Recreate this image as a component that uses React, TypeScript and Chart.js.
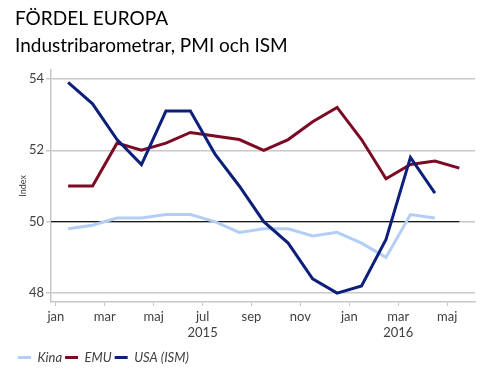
import React, { useEffect, useRef } from "react";
import { Chart, registerables } from "chart.js";
Chart.register(...registerables);

const TITLE_LINES = ["FÖRDEL EUROPA", "Industribarometrar, PMI och ISM"];
const tickMonthIndex = [0, 2, 4, 6, 8, 10, 12, 14, 16];
const tickLabels = ["jan", "mar", "maj", "jul", "sep", "nov", "jan", "mar", "maj"];
const yearLabels = ["", "", "", "2015", "", "", "", "2016", ""];
const yTicks = [48, 50, 52, 54];
const refLevel = 50;

// Monthly values, jan 2015 onwards
const kina = [49.8, 49.9, 50.1, 50.1, 50.2, 50.2, 50.0, 49.7, 49.8, 49.8, 49.6, 49.7, 49.4, 49.0, 50.2, 50.1];
const emu = [51.0, 51.0, 52.2, 52.0, 52.2, 52.5, 52.4, 52.3, 52.0, 52.3, 52.8, 53.2, 52.3, 51.2, 51.6, 51.7, 51.5];
const usa = [53.9, 53.3, 52.3, 51.6, 53.1, 53.1, 51.9, 51.0, 50.0, 49.4, 48.4, 48.0, 48.2, 49.5, 51.8, 50.8];

const X_MIN = -0.2;
const X_MAX = 17.14;
const FONT = "Lato, 'Open Sans', sans-serif";

export default function App() {
  const ref = useRef<HTMLCanvasElement>(null);
  useEffect(() => {
    const toPts = (arr: number[]) => arr.map((v, i) => ({ x: i + 0.5, y: v }));
    const chart = new Chart(ref.current!, {
      type: "line",
      data: {
        datasets: [
          {
            label: "ref",
            data: [
              { x: X_MIN, y: refLevel },
              { x: emu.length - 0.5, y: refLevel },
            ],
            borderColor: "#1a1a1a",
            borderWidth: 1.2,
            pointRadius: 0,
            order: 10,
          },
          { label: "Kina", data: toPts(kina), borderColor: "#b3cef5", backgroundColor: "#b3cef5", borderWidth: 3, pointRadius: 0, order: 3 },
          { label: "EMU", data: toPts(emu), borderColor: "#7b0a25", backgroundColor: "#7b0a25", borderWidth: 3, pointRadius: 0, order: 2 },
          { label: "USA (ISM)", data: toPts(usa), borderColor: "#0c1f7a", backgroundColor: "#0c1f7a", borderWidth: 3, pointRadius: 0, order: 1 },
        ],
      },
      options: {
        responsive: false,
        animation: false,
        layout: { padding: { left: 15, right: 20, top: 0, bottom: 2 } },
        elements: { line: { tension: 0, borderCapStyle: "butt", borderJoinStyle: "miter" } },
        plugins: {
          tooltip: { enabled: false },
          title: {
            display: true,
            text: TITLE_LINES,
            align: "start",
            color: "#000",
            font: { family: FONT, size: 19, weight: "normal", lineHeight: 1.42 },
            padding: { top: 5, bottom: 11 },
          },
          legend: {
            display: true,
            position: "bottom",
            align: "start",
            labels: {
              boxWidth: 13,
              boxHeight: 3,
              padding: 3,
              color: "#404040",
              font: { family: FONT, size: 13, style: "italic" },
              generateLabels: (c: any) =>
                c.data.datasets
                  .map((d: any, i: number) => ({
                    text: d.label,
                    fillStyle: d.borderColor,
                    strokeStyle: d.borderColor,
                    lineWidth: 0,
                    fontColor: "#404040",
                    datasetIndex: i,
                    hidden: false,
                  }))
                  .filter((l: any) => l.text !== "ref"),
            },
          },
        },
        scales: {
          x: {
            type: "linear",
            min: X_MIN,
            max: X_MAX,
            afterBuildTicks: (s: any) => {
              s.ticks = tickMonthIndex.map((v) => ({ value: v }));
            },
            afterFit: (s: any) => {
              s.height = 46;
            },
            ticks: {
              autoSkip: false,
              maxRotation: 0,
              padding: 3,
              color: "#404040",
              font: { family: FONT, size: 13 },
              callback: (_v: any, i: number) => (yearLabels[i] ? [tickLabels[i], yearLabels[i]] : tickLabels[i]),
            },
            grid: { drawOnChartArea: false, drawTicks: true, tickLength: 4, color: "#c8c8c8" },
            border: { color: "#c8c8c8", width: 1.5 },
          },
          y: {
            min: 47.75,
            max: 54.25,
            afterBuildTicks: (s: any) => {
              s.ticks = yTicks.map((v) => ({ value: v }));
            },
            afterFit: (s: any) => {
              s.width = 36;
            },
            ticks: {
              padding: 2,
              color: "#404040",
              font: { family: FONT, size: 13 },
              callback: (v: any) => String(v),
            },
            grid: { color: "#c8c8c8", lineWidth: 1.5, tickLength: 5 },
            border: { color: "#c8c8c8", width: 1.5 },
            title: {
              display: true,
              text: "Index",
              color: "#404040",
              font: { family: FONT, size: 9 },
              padding: { top: 3, bottom: 0 },
            },
          },
        },
      },
    } as any);
    return () => chart.destroy();
  }, []);
  return (
    <div style={{ position: "absolute", left: 0, top: 0, width: 495, height: 376, background: "#fff" }}>
      <canvas ref={ref} width={495} height={376} />
    </div>
  );
}
